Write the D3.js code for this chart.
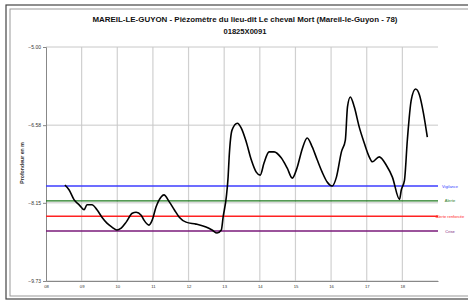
<!DOCTYPE html>
<html><head><meta charset="utf-8">
<script src="https://cdn.jsdelivr.net/npm/d3@7"></script>
<style>body{margin:0;background:#fff}svg{display:block}</style>
</head><body><svg id="c" width="468" height="300"></svg>
<script>
const titleLines = ["MAREIL-LE-GUYON - Piézomètre du lieu-dit Le cheval Mort (Mareil-le-Guyon - 78)", "01825X0091"];
const yLabel = "Profondeur en m";
const yTicks = [-5.00, -6.58, -8.15, -9.73];
const xTicks = [2008, 2009, 2010, 2011, 2012, 2013, 2014, 2015, 2016, 2017, 2018];
const xTickLabels = ["08","09","10","11","12","13","14","15","16","17","18"];
const thresholdNames = ["Vigilance", "Alerte", "Alerte renforcée", "Crise"];
const thresholdValues = [-7.81, -8.11, -8.42, -8.72];
const thresholdColors = ["#3c3cff", "#1e7a1e", "#ff2222", "#7a1a7a"];
const dates = [2008.53,2008.65,2008.79,2008.93,2009.07,2009.15,2009.29,2009.43,2009.57,2009.71,2009.85,2009.99,2010.11,2010.25,2010.42,2010.53,2010.67,2010.75,2010.89,2010.98,2011.09,2011.23,2011.31,2011.46,2011.60,2011.74,2011.93,2012.21,2012.49,2012.66,2012.80,2012.92,2012.97,2013.06,2013.11,2013.14,2013.22,2013.37,2013.48,2013.62,2013.76,2013.90,2014.01,2014.12,2014.26,2014.40,2014.60,2014.77,2014.91,2015.05,2015.19,2015.33,2015.47,2015.61,2015.75,2015.89,2016.03,2016.15,2016.29,2016.40,2016.46,2016.54,2016.65,2016.79,2016.93,2017.07,2017.16,2017.35,2017.55,2017.72,2017.92,2017.97,2018.06,2018.14,2018.25,2018.37,2018.48,2018.59,2018.70];
const depths = [-7.79,-7.89,-8.09,-8.19,-8.29,-8.19,-8.19,-8.29,-8.44,-8.56,-8.64,-8.70,-8.66,-8.54,-8.36,-8.34,-8.40,-8.50,-8.60,-8.50,-8.23,-8.03,-7.99,-8.13,-8.29,-8.44,-8.54,-8.58,-8.64,-8.70,-8.76,-8.70,-8.44,-8.03,-7.63,-7.22,-6.68,-6.54,-6.64,-6.92,-7.28,-7.53,-7.59,-7.34,-7.12,-7.12,-7.24,-7.45,-7.65,-7.43,-7.06,-6.84,-7.02,-7.28,-7.53,-7.73,-7.81,-7.63,-7.12,-6.88,-6.21,-6.01,-6.21,-6.62,-6.94,-7.22,-7.32,-7.22,-7.39,-7.63,-8.08,-7.89,-7.69,-6.88,-6.07,-5.85,-5.97,-6.33,-6.82];

const svg = d3.select("#c");
const font = "'Liberation Sans', Arial, sans-serif";

// frame
svg.append("rect").attr("x",6).attr("y",5).attr("width",470).attr("height",294)
  .attr("fill","none").attr("stroke","#444").attr("stroke-width",1.2);
svg.append("rect").attr("x",10).attr("y",9).attr("width",470).attr("height",287)
  .attr("fill","none").attr("stroke","#999").attr("stroke-width",1);

const x = d3.scaleLinear().domain([2008, 2019]).range([46, 438]);
const y = d3.scaleLinear().domain([-9.73, -5.00]).range([281, 47]);

// title
svg.append("g").selectAll("text").data(titleLines).join("text")
  .attr("x", 245).attr("y", (d,i)=> 22 + i*12)
  .attr("text-anchor","middle").attr("font-family",font).attr("font-weight","bold")
  .attr("font-size", 7.6).attr("fill","#111")
  .attr("textLength",(d,i)=> i===0 ? 305 : null)
  .attr("lengthAdjust","spacingAndGlyphs")
  .text(d=>d);

// gridlines
svg.append("g").selectAll("line").data(xTicks.slice(1)).join("line")
  .attr("x1",d=>x(d)).attr("x2",d=>x(d)).attr("y1",y(-5)).attr("y2",y(-9.73))
  .attr("stroke","#d0d0d0").attr("stroke-width",1.2);
svg.append("g").selectAll("line").data(yTicks).join("line")
  .attr("x1",x(2008)).attr("x2",x(2019)).attr("y1",d=>y(d)).attr("y2",d=>y(d))
  .attr("stroke","#c8c8c8").attr("stroke-width",1);

// axes
const yAxis = d3.axisLeft(y).tickValues(yTicks).tickFormat(d3.format(".2f")).tickSize(3).tickPadding(2);
const gy = svg.append("g").attr("transform",`translate(${x(2008)},0)`).call(yAxis);
gy.selectAll("path,line").attr("stroke","#888");
gy.selectAll("text").attr("font-family",font).attr("font-size",5).attr("fill","#333");

const xAxis = d3.axisBottom(x).tickValues(xTicks).tickFormat((d,i)=>xTickLabels[i]).tickSize(0).tickPadding(4);
const gx = svg.append("g").attr("transform",`translate(0,${y(-9.73)})`).call(xAxis);
gx.select("path").attr("stroke","#888");
gx.selectAll("text").attr("font-family",font).attr("font-size",4.2).attr("fill","#333");

// y label
svg.append("text").attr("transform","translate(24,163) rotate(-90)")
  .attr("text-anchor","middle").attr("font-family",font).attr("font-weight","bold")
  .attr("font-size",5.2).attr("fill","#333").text(yLabel);

// thresholds
const th = thresholdNames.map((n,i)=>({n, v:thresholdValues[i], c:thresholdColors[i]}));
svg.append("g").selectAll("line").data(th).join("line")
  .attr("x1",x(2008)).attr("x2",x(2019)).attr("y1",d=>y(d.v)).attr("y2",d=>y(d.v))
  .attr("stroke",d=>d.c).attr("stroke-width",1.4);
svg.append("g").selectAll("text").data(th).join("text")
  .attr("x",450).attr("y",d=>y(d.v)+1.5).attr("text-anchor","middle")
  .attr("font-family",font).attr("font-size",4).attr("fill",d=>d.c).text(d=>d.n);

// series
const pts = dates.map((d,i)=>[d, depths[i]]);
svg.append("path").datum(pts)
  .attr("d", d3.line().x(d=>x(d[0])).y(d=>y(d[1])).curve(d3.curveMonotoneX))
  .attr("fill","none").attr("stroke","#000").attr("stroke-width",1.6);
</script></body></html>
